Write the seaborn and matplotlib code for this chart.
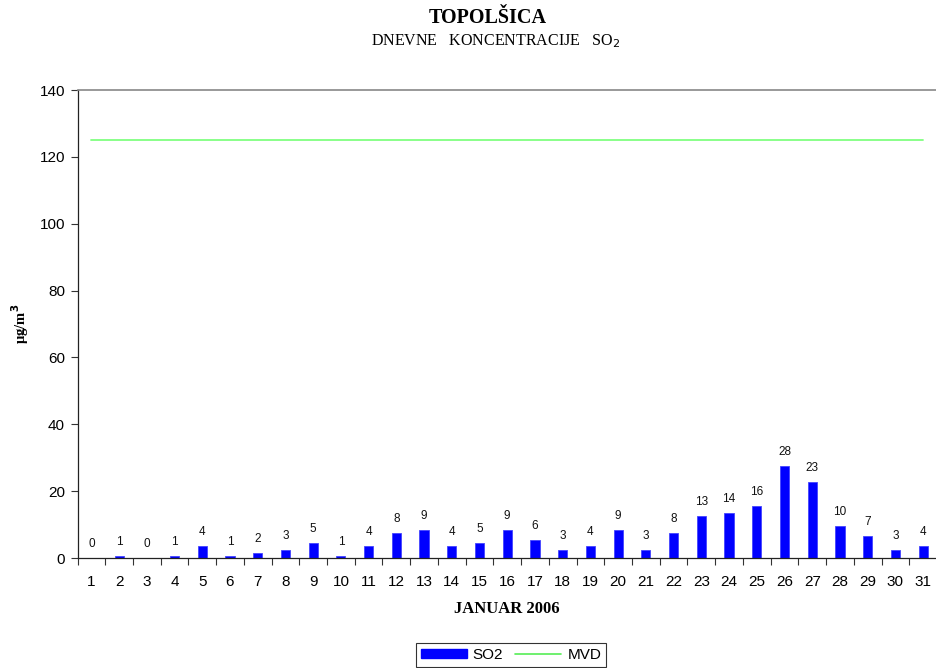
import numpy as np
import pandas as pd
import matplotlib
matplotlib.use("Agg")
import matplotlib.pyplot as plt
import seaborn as sns
from matplotlib.patches import Patch
from matplotlib.lines import Line2D

days = [str(d) for d in range(1, 32)]
so2 = [0.0, 0.5, 0.1, 0.5, 3.5, 0.5, 1.5, 2.5, 4.5, 0.5, 3.5, 7.5, 8.5, 3.5, 4.5,
       8.5, 5.5, 2.5, 3.5, 8.5, 2.5, 7.5, 12.5, 13.5, 15.5, 27.5, 22.6, 9.5, 6.5, 2.4, 3.5]
labels = [0, 1, 0, 1, 4, 1, 2, 3, 5, 1, 4, 8, 9, 4, 5, 9, 6, 3, 4, 9, 3, 8, 13, 14, 16,
          28, 23, 10, 7, 3, 4]
mvd = [125] * 31
yticks = [0, 20, 40, 60, 80, 100, 120, 140]

sns.set_theme(style="white")
plt.rcParams['font.family'] = ['Liberation Sans', 'DejaVu Sans']
plt.rcParams['text.color'] = 'black'
plt.rcParams['axes.labelcolor'] = 'black'
plt.rcParams['xtick.color'] = 'black'
plt.rcParams['ytick.color'] = 'black'

fig = plt.figure(figsize=(9.37, 6.68), dpi=100)
ax = fig.add_axes([77.5/937, 1-558/668, 1-77.5/937, (558-90)/668])

df = pd.DataFrame({"day": days, "SO2": so2})
sns.barplot(data=df, x="day", y="SO2", color="#0000ff", width=0.33, ax=ax,
            saturation=1, edgecolor="#4444ff", linewidth=0.6)
sns.lineplot(x=np.arange(31), y=mvd, color="#80ff80", linewidth=1.3, ax=ax)

for i, (v, l) in enumerate(zip(so2, labels)):
    ax.text(i, v + 2.4, str(l), ha="center", va="bottom", fontsize=8.5, color="#111111")

ax.set_xlim(-0.5, 30.5)
ax.set_ylim(0, 140)
ax.set_yticks(yticks)
ax.set_yticklabels([str(t) for t in yticks], fontsize=11)
ax.set_xticks(np.arange(31))
ax.set_xticklabels(days, fontsize=11)
ax.tick_params(axis="x", length=0, pad=12)
ax.set_xticks(np.arange(-0.5, 31, 1), minor=True)
ax.tick_params(axis="x", which="minor", length=5, width=0.8, color="#333333", direction="out", bottom=True)
ax.tick_params(axis="y", length=5, width=0.8, color="#333333", direction="out", left=True, pad=4)
ax.spines["right"].set_visible(False)
ax.spines["top"].set_color("#888888")
ax.spines["top"].set_linewidth(1.2)
for s in ["left", "bottom"]:
    ax.spines[s].set_color("#222222")
    ax.spines[s].set_linewidth(0.9)

ax.set_xlabel("JANUAR 2006", fontsize=12, fontweight="bold", family="Liberation Serif", labelpad=9)
ax.set_ylabel("μg/m$^\\mathbf{3}$", fontsize=10.5, fontweight="bold", family="Liberation Serif", labelpad=6)

fig.text(488/937, 1-18/668, "TOPOLŠICA", ha="center", va="center", fontsize=14.5, fontweight="bold",
         family="Liberation Serif")
fig.text(496/937, 1-41/668, "DNEVNE   KONCENTRACIJE   SO$_2$", ha="center", va="center", fontsize=11.5,
         family="Liberation Serif")

handles = [Patch(facecolor="#0000ff", edgecolor="#0000ff"),
           Line2D([0], [0], color="#55ee55", lw=1.2)]
leg = fig.legend(handles, ["SO2", "MVD"], loc="center", bbox_to_anchor=(511/937, 1-655/668),
                 ncol=2, frameon=True, fontsize=11, handlelength=3.0, handleheight=0.6,
                 columnspacing=0.8, handletextpad=0.4, borderpad=0.3, fancybox=False)
leg.get_frame().set_edgecolor("black")
leg.get_frame().set_linewidth(0.8)

fig.savefig("out.png", dpi=100)
